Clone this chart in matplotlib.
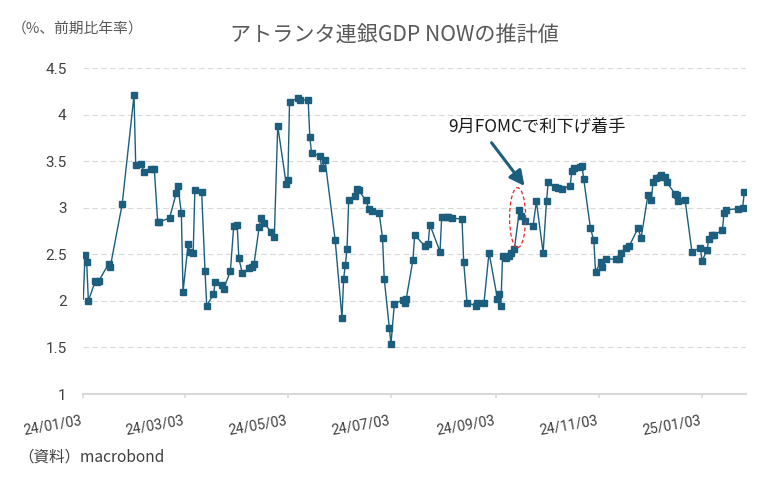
import matplotlib
matplotlib.use("Agg")
import matplotlib.pyplot as plt
import matplotlib.dates as mdates
from matplotlib.patches import Ellipse
import pandas as pd

plt.rcParams['font.family'] = ['Roboto', 'Noto Sans CJK JP', 'DejaVu Sans']

dates = [
    "2024-01-03", "2024-01-04", "2024-01-05", "2024-01-06", "2024-01-10", "2024-01-11", "2024-01-12",
    "2024-01-18", "2024-01-19", "2024-01-26", "2024-02-02", "2024-02-03", "2024-02-06", "2024-02-08",
    "2024-02-12", "2024-02-14", "2024-02-16", "2024-02-17", "2024-02-23", "2024-02-27", "2024-02-28",
    "2024-03-01", "2024-03-02", "2024-03-05", "2024-03-06", "2024-03-08", "2024-03-09", "2024-03-13",
    "2024-03-15", "2024-03-16", "2024-03-20", "2024-03-21", "2024-03-25", "2024-03-26", "2024-03-30",
    "2024-04-01", "2024-04-03", "2024-04-04", "2024-04-06", "2024-04-10", "2024-04-12", "2024-04-13",
    "2024-04-16", "2024-04-17", "2024-04-19", "2024-04-23", "2024-04-25", "2024-04-27", "2024-05-02",
    "2024-05-03", "2024-05-04", "2024-05-09", "2024-05-10", "2024-05-15", "2024-05-16", "2024-05-17",
    "2024-05-22", "2024-05-23", "2024-05-25", "2024-05-31", "2024-06-04", "2024-06-05", "2024-06-06",
    "2024-06-07", "2024-06-08", "2024-06-12", "2024-06-13", "2024-06-14", "2024-06-18", "2024-06-20",
    "2024-06-22", "2024-06-26", "2024-06-28", "2024-06-29", "2024-07-02", "2024-07-03", "2024-07-05",
    "2024-07-10", "2024-07-11", "2024-07-12", "2024-07-16", "2024-07-17", "2024-07-23", "2024-07-25",
    "2024-07-26", "2024-08-01", "2024-08-02", "2024-08-05", "2024-08-06", "2024-08-08", "2024-08-14",
    "2024-08-15", "2024-08-17", "2024-08-22", "2024-08-23", "2024-08-27", "2024-08-30", "2024-09-04",
    "2024-09-05", "2024-09-06", "2024-09-07", "2024-09-09", "2024-09-11", "2024-09-12", "2024-09-14",
    "2024-09-17", "2024-09-18", "2024-09-20", "2024-09-25", "2024-09-27", "2024-10-01", "2024-10-03",
    "2024-10-04", "2024-10-08", "2024-10-10", "2024-10-12", "2024-10-17", "2024-10-18", "2024-10-19",
    "2024-10-23", "2024-10-24", "2024-10-25", "2024-10-29", "2024-10-31", "2024-11-01", "2024-11-04",
    "2024-11-05", "2024-11-07", "2024-11-13", "2024-11-15", "2024-11-16", "2024-11-19", "2024-11-21",
    "2024-11-26", "2024-11-28", "2024-12-02", "2024-12-04", "2024-12-05", "2024-12-07", "2024-12-09",
    "2024-12-10", "2024-12-12", "2024-12-13", "2024-12-18", "2024-12-19", "2024-12-20", "2024-12-24",
    "2024-12-28", "2025-01-02", "2025-01-03", "2025-01-06", "2025-01-07", "2025-01-09", "2025-01-10",
    "2025-01-15", "2025-01-16", "2025-01-17", "2025-01-24", "2025-01-27", "2025-01-28",
]
gdpnow = [
    2.02, 2.49, 2.42, 2.00, 2.21, 2.20, 2.21,
    2.40, 2.37, 3.04, 4.21, 3.46, 3.47, 3.39,
    3.42, 3.42, 2.85, 2.85, 2.89, 3.16, 3.24,
    2.94, 2.10, 2.61, 2.53, 2.52, 3.19, 3.17,
    2.32, 1.95, 2.07, 2.20, 2.17, 2.13, 2.32,
    2.81, 2.82, 2.46, 2.30, 2.35, 2.36, 2.40,
    2.79, 2.89, 2.84, 2.74, 2.69, 3.88, 3.26,
    3.30, 4.14, 4.18, 4.16, 4.16, 3.76, 3.59,
    3.56, 3.43, 3.51, 2.65, 1.82, 2.24, 2.39,
    2.56, 3.09, 3.13, 3.20, 3.19, 3.08, 2.99,
    2.97, 2.94, 2.68, 2.24, 1.71, 1.54, 1.97,
    2.01, 1.98, 2.02, 2.44, 2.71, 2.59, 2.61,
    2.82, 2.53, 2.90, 2.90, 2.90, 2.89, 2.88,
    2.42, 1.98, 1.95, 1.98, 1.98, 2.52, 2.02,
    2.07, 1.95, 2.48, 2.46, 2.48, 2.52, 2.56,
    2.98, 2.91, 2.86, 2.80, 3.07, 2.52, 3.07,
    3.28, 3.22, 3.21, 3.20, 3.24, 3.40, 3.43,
    3.44, 3.45, 3.31, 2.78, 2.65, 2.31, 2.42,
    2.37, 2.45, 2.45, 2.45, 2.52, 2.57, 2.59,
    2.78, 2.68, 3.14, 3.08, 3.28, 3.32, 3.33,
    3.35, 3.33, 3.28, 3.15, 3.14, 3.07, 3.08,
    2.53, 2.57, 2.43, 2.55, 2.67, 2.71, 2.71,
    2.76, 2.94, 2.98, 2.99, 3.00, 3.17,
]
xtick_dates = ["2024-01-03", "2024-03-03", "2024-05-03", "2024-07-03",
               "2024-09-03", "2024-11-03", "2025-01-03"]
xtick_labels = ["24/01/03", "24/03/03", "24/05/03", "24/07/03",
                "24/09/03", "24/11/03", "25/01/03"]
yticks = [1, 1.5, 2, 2.5, 3, 3.5, 4, 4.5]

title = "アトランタ連銀GDP NOWの推計値"
unit_label = "（%、前期比年率）"
source_label = "（資料）macrobond"
note = "9月FOMCで利下げ着手"

line_color = "#1b5e7d"
grid_color = "#d9d9d9"
text_dark = "#404040"
text_gray = "#595959"

x = pd.to_datetime(dates)

fig = plt.figure(figsize=(7.66, 4.86), dpi=100)
ax = fig.add_axes([0.10875, 0.1893, 0.86514, 0.67017])

ax.plot(x, gdpnow, color=line_color, lw=1.0, marker='s', markersize=3.8,
        markevery=list(range(1, len(gdpnow))), zorder=3)

ax.set_xlim(pd.Timestamp("2024-01-03"), pd.Timestamp("2025-01-29"))
ax.set_ylim(1, 4.5)

ax.set_yticks(yticks)
ax.set_yticklabels([f"{v:g}" for v in yticks])
ax.set_xticks(pd.to_datetime(xtick_dates))
ax.set_xticklabels(xtick_labels, rotation=10, ha='right')

ax.grid(axis='y', color=grid_color, lw=0.8, linestyle=(0, (5, 3)))
ax.grid(axis='x', visible=False)
ax.set_axisbelow(True)
for s in ['top', 'right', 'left']:
    ax.spines[s].set_visible(False)
ax.spines['bottom'].set_color(grid_color)
ax.spines['bottom'].set_linewidth(1.5)

ax.tick_params(axis='y', length=0, pad=12, labelsize=11, labelcolor=text_dark)
ax.tick_params(axis='x', length=3, width=1.2, color=grid_color, pad=11,
               labelsize=10.2, labelcolor=text_dark)

# annotation
x0 = mdates.date2num(pd.Timestamp("2024-01-03"))
ell = Ellipse((x0 + 256.9, 2.895), width=9.5, height=0.645, fill=False,
              edgecolor='#e8262a', lw=0.9, linestyle=(0, (3, 2)), zorder=4)
ax.add_patch(ell)
ax.annotate("", xy=(x0 + 261.0, 3.235), xytext=(x0 + 241.5, 3.70),
            arrowprops=dict(arrowstyle='-|>,head_length=0.9,head_width=0.45',
                            color=line_color, lw=2.2, shrinkA=0, shrinkB=0),
            zorder=5)
ax.text(x0 + 268.4, 3.858, note, ha='center', va='center', fontsize=12.4,
        color='#1a1a1a', family=['Noto Sans CJK JP', 'DejaVu Sans'])

fig.text(394 / 766, 1 - 36 / 486, title, ha='center', va='center', fontsize=15.2,
         color=text_gray, family=['Noto Sans CJK JP', 'DejaVu Sans'])
fig.text(12 / 766, 1 - 29 / 486, unit_label, ha='left', va='center', fontsize=10.6,
         color=text_gray, family=['Noto Sans CJK JP', 'DejaVu Sans'])
fig.text(18 / 766, 1 - 457 / 486, source_label, ha='left', va='center', fontsize=11.2,
         color=text_dark, family=['Noto Sans CJK JP', 'DejaVu Sans'])

fig.savefig("out.png", dpi=100)
